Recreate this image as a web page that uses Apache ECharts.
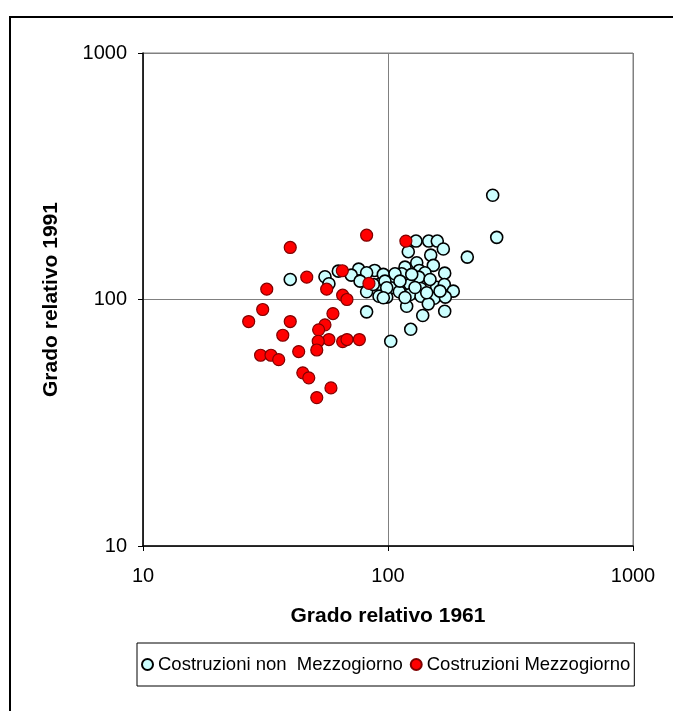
<!DOCTYPE html>
<html><head><meta charset="utf-8">
<script src="https://cdn.jsdelivr.net/npm/echarts@6/dist/echarts.min.js"></script>
<style>html,body{margin:0;padding:0;background:#fff}#c{width:673px;height:711px}</style>
</head><body><div id="c"></div>
<script>
const seriesNames = ['Costruzioni non  Mezzogiorno', 'Costruzioni Mezzogiorno'];
const axisTicks = [10, 100, 1000];
const xTitle = 'Grado relativo 1961';
const yTitle = 'Grado relativo 1991';

const nonMezzogiorno = [
  [267.5,264.8],[277.8,178.7],[210.7,148.6],[130.1,172.6],[146.6,172.6],[158.9,172.6],
  [168.2,160.2],[121.0,156.3],[149.4,151.4],[131.0,141.0],[153.1,137.5],[117.3,135.3],
  [75.9,132.8],[88.2,131.2],[81.8,128.4],[70.8,125.6],[134.2,131.2],[141.6,128.4],
  [170.4,127.9],[102.6,123.2],[113.7,127.2],[133.5,123.2],[95.7,126.4],[76.9,118.7],
  [91.9,115.1],[105.1,116.9],[113.7,113.3],[123.0,115.1],[102.6,111.6],[136.0,110.8],
  [158.0,112.2],[169.8,115.1],[184.7,108.1],[81.8,107.5],[111.2,107.5],[91.9,103.1],
  [98.8,102.2],[123.0,104.8],[136.4,103.1],[154.5,101.2],[171.4,102.2],[146.0,96.0],
  [119.2,93.9],[81.8,89.1],[138.6,86.1],[170.4,89.6],[148.4,120.6],[128.9,111.9],
  [117.3,101.9],[87.1,115.1],[97.2,118.7],[39.9,120.6],[55.3,123.7],[57.4,115.8],
  [62.7,130.3],[102.6,67.7],[123.8,75.7],[106.8,127.2],[111.9,118.7],[125.0,126.4],
  [143.9,106.5],[163.0,108.1],[98.8,111.6],[95.7,101.6]
];
const mezzogiorno = [
  [81.8,182.3],[118.3,172.6],[39.9,162.6],[65.1,130.8],[46.6,123.2],[83.6,116.2],
  [32.0,110.1],[56.2,110.1],[65.3,104.1],[68.0,100.0],[30.8,91.1],[59.6,87.7],
  [27.0,81.4],[39.9,81.4],[55.3,78.9],[52.1,75.3],[37.2,71.6],[57.4,68.8],
  [51.9,67.7],[65.3,67.5],[68.0,68.8],[76.4,68.8],[30.2,59.4],[33.3,59.4],
  [35.8,57.0],[43.2,61.5],[51.2,62.4],[44.9,50.4],[47.5,48.1],[58.5,43.8],[51.2,40.0]
];

const font = '"Liberation Sans", Arial, sans-serif';
const chart = echarts.init(document.getElementById('c'), null, {renderer: 'canvas'});
const logAxis = (name, gap, isX) => ({
  type: 'log', logBase: 10, min: axisTicks[0], max: axisTicks[axisTicks.length - 1],
  splitNumber: 2,
  name: name, nameLocation: 'middle', nameGap: gap,
  nameTextStyle: {fontFamily: font, fontSize: 21, fontWeight: 'bold', color: '#000'},
  axisLine: {show: true, lineStyle: {color: '#000', width: 1.5}},
  axisTick: {show: true, inside: false, length: 5, lineStyle: {color: '#000'}},
  axisLabel: {fontFamily: font, fontSize: 20, color: '#000', margin: isX ? 20 : 16,
    formatter: v => String(Math.round(v))},
  splitLine: {show: true, lineStyle: {color: '#808080', width: 1}},
  minorTick: {show: false}, minorSplitLine: {show: false}
});
chart.setOption({
  animation: false,
  backgroundColor: '#fff',
  graphic: [{type: 'rect', shape: {x: 10, y: 17, width: 720, height: 760},
    style: {fill: 'none', stroke: '#000', lineWidth: 2}, silent: true}],
  grid: {left: 143, top: 53, width: 490, height: 493, containLabel: false,
    show: true, borderColor: '#808080', borderWidth: 1},
  xAxis: logAxis(xTitle, 60, true),
  yAxis: logAxis(yTitle, 81, false),
  legend: {
    left: 137, top: 643, width: 500,
    padding: [12, 4, 12, 4], itemGap: 7,
    borderColor: '#000', borderWidth: 1,
    icon: 'circle', itemWidth: 11, itemHeight: 11,
    textStyle: {fontFamily: font, fontSize: 18.5, color: '#000'},
    data: seriesNames
  },
  series: [
    {name: seriesNames[0], type: 'scatter', data: nonMezzogiorno, symbol: 'circle', symbolSize: 12,
      itemStyle: {color: '#CCFFFF', borderColor: '#000', borderWidth: 1.6, opacity: 1}},
    {name: seriesNames[1], type: 'scatter', data: mezzogiorno, symbol: 'circle', symbolSize: 12,
      itemStyle: {color: '#FF0000', borderColor: '#800000', borderWidth: 1.2, opacity: 1}}
  ]
});
</script></body></html>
